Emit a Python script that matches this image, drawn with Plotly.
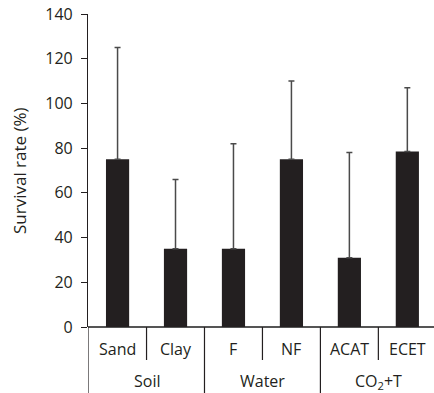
import plotly.graph_objects as go

categories = ["Sand", "Clay", "F", "NF", "ACAT", "ECET"]
groups = ["Soil", "Water", "CO<sub>2</sub>+T"]
means = [75, 35, 35, 75, 31, 78.5]
upper_err = [50, 31, 47, 35, 47, 28.5]
yticks = [0, 20, 40, 60, 80, 100, 120, 140]

FONT = "Open Sans"
TXT = "#231f20"
xs = list(range(len(categories)))

fig = go.Figure()
fig.add_trace(go.Bar(
    x=xs, y=means, width=0.4,
    marker=dict(color="#231f20", line=dict(width=0)),
    error_y=dict(type="data", array=upper_err, arrayminus=[0]*6, symmetric=False,
                 color="#4a4a4a", thickness=1.5, width=3),
))

H = 313.0
def py(p):
    return (327 - p) / H

shapes = []
for s in [0.5, 2.5, 4.5]:
    shapes.append(dict(type="line", xref="x", yref="paper", x0=s, x1=s,
                       y0=0, y1=py(360), line=dict(color=TXT, width=1.2)))
for s in [-0.51, 1.5, 3.5]:
    shapes.append(dict(type="line", xref="x", yref="paper", x0=s, x1=s,
                       y0=0, y1=py(395), line=dict(color=TXT, width=1.2)))

annotations = []
for i, c in enumerate(categories):
    annotations.append(dict(x=i, y=py(349), xref="x", yref="paper", text=c,
                            showarrow=False, font=dict(family=FONT, size=16, color=TXT),
                            xanchor="center", yanchor="middle"))
for gi, g in enumerate(groups):
    annotations.append(dict(x=2*gi + 0.5, y=py(381), xref="x", yref="paper", text=g,
                            showarrow=False, font=dict(family=FONT, size=16, color=TXT),
                            xanchor="center", yanchor="middle"))
annotations.append(dict(x=(19.5 - 88) / (434 - 88), y=0.5, xref="paper", yref="paper",
                        text="Survival rate (%)", showarrow=False, textangle=-90,
                        xanchor="center", yanchor="middle",
                        font=dict(family=FONT, size=17, color=TXT)))

fig.update_layout(
    width=434, height=393,
    margin=dict(l=88, r=0, t=14, b=66),
    plot_bgcolor="white", paper_bgcolor="white",
    showlegend=False,
    shapes=shapes, annotations=annotations,
    xaxis=dict(range=[-0.51, 5.46], showticklabels=False, ticks="", showgrid=False,
               zeroline=False, showline=False),
    yaxis=dict(range=[0, 140], tickvals=yticks, ticks="outside", ticklen=6,
               tickcolor=TXT, tickwidth=1.2, showline=True, linecolor=TXT, linewidth=1.2,
               showgrid=False, zeroline=True, zerolinecolor="#555", zerolinewidth=1.5,
               ticklabelstandoff=5,
               tickfont=dict(family=FONT, size=16, color=TXT)),
    font=dict(family=FONT, color=TXT),
)

fig.write_html("out.html")
